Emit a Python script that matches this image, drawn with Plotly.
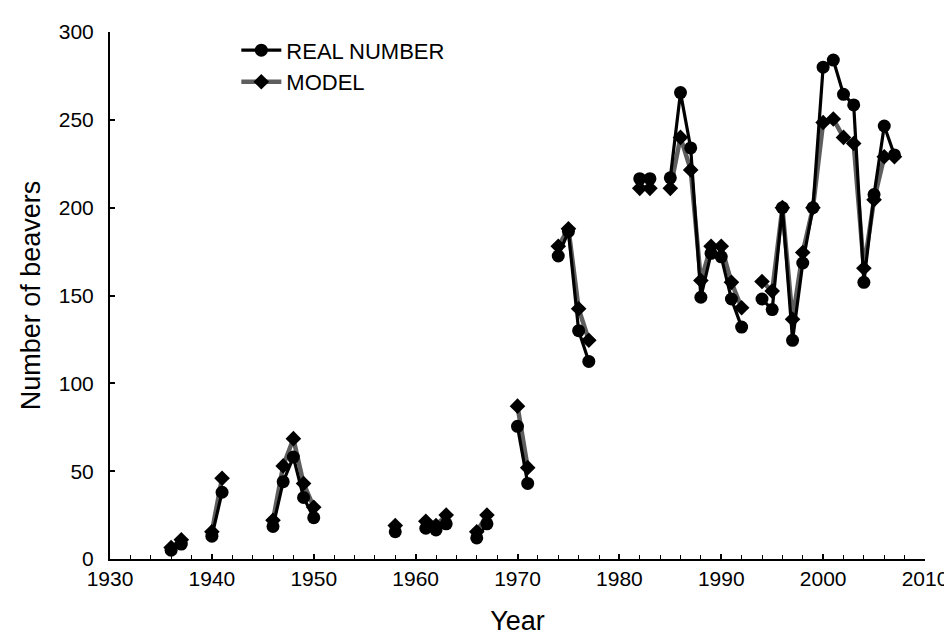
import plotly.graph_objects as go

years = [1936, 1937, 1940, 1941, 1946, 1947, 1948, 1949, 1950, 1958,
         1961, 1962, 1963, 1966, 1967, 1970, 1971, 1974, 1975, 1976, 1977,
         1982, 1983, 1985, 1986, 1987, 1988, 1989, 1990, 1991, 1992,
         1994, 1995, 1996, 1997, 1998, 1999, 2000, 2001, 2002, 2003, 2004,
         2005, 2006, 2007]
real_number = [5, 8.5, 13, 38, 18.5, 44, 58, 35, 23.5, 15.5,
               17.5, 16.5, 20, 12, 20, 75.5, 43, 172.5, 186.5, 130, 112.5,
               216.5, 216.5, 217, 265.5, 234, 149, 174, 172, 148, 132,
               148, 142, 200, 124.5, 168.5, 200, 280, 284, 264.5, 258.5, 157.5,
               207.5, 246.5, 230]
model = [6.5, 11, 15.5, 46, 22, 53, 68.5, 43, 29.5, 19,
         21.5, 19, 25, 15.5, 25, 87, 52, 178, 188, 142.5, 124.5,
         211, 211, 211, 240, 221.5, 158.5, 178, 178, 157.5, 143,
         158, 152.5, 200, 136.5, 174.5, 200, 248.5, 250.5, 240, 236.5, 165.5,
         204.5, 229, 229]

x_ticks = [1930, 1940, 1950, 1960, 1970, 1980, 1990, 2000, 2010]
y_ticks = [0, 50, 100, 150, 200, 250, 300]

# full year range with gaps (None) where no observation exists
full_years = list(range(min(years), max(years) + 1))
real_map = dict(zip(years, real_number))
model_map = dict(zip(years, model))
real_full = [real_map.get(y) for y in full_years]
model_full = [model_map.get(y) for y in full_years]

FONT = "Liberation Sans, Arial, sans-serif"

fig = go.Figure()
fig.add_trace(go.Scatter(
    x=full_years, y=model_full, name="MODEL", mode="lines+markers",
    connectgaps=False,
    line=dict(color="#5e5e5e", width=4.5),
    marker=dict(symbol="diamond", size=12, color="black"),
))
fig.add_trace(go.Scatter(
    x=full_years, y=real_full, name="REAL NUMBER", mode="lines+markers",
    connectgaps=False,
    line=dict(color="black", width=3.2),
    marker=dict(symbol="circle", size=13, color="black"),
))

fig.update_layout(
    width=952, height=635,
    margin=dict(l=102, r=31, t=19, b=84),
    paper_bgcolor="white", plot_bgcolor="white",
    font=dict(family=FONT, color="black", size=21),
    showlegend=True,
    legend=dict(x=0.155, y=1.005, xanchor="left", yanchor="top",
                traceorder="reversed",
                bgcolor="rgba(0,0,0,0)", font=dict(size=22, family=FONT),
                itemwidth=40),
)
fig.update_xaxes(
    range=[1930, 2010], tickvals=x_ticks, ticktext=[str(t) for t in x_ticks],
    showgrid=False, zeroline=False,
    showline=True, linecolor="black", linewidth=2,
    ticks="inside", ticklen=5, tickwidth=1.5, tickcolor="black",
    minor=dict(dtick=2, tick0=1930, ticks="inside", ticklen=4, tickwidth=1, tickcolor="black"),
    tickfont=dict(size=21, family=FONT),
    title=dict(text="Year", font=dict(size=27, family=FONT), standoff=22),
)
fig.update_yaxes(
    range=[0, 300], tickvals=y_ticks,
    showgrid=False, zeroline=False,
    showline=True, linecolor="black", linewidth=2,
    ticks="inside", ticklen=5, tickwidth=1.5, tickcolor="black",
    ticklabelstandoff=10,
    tickfont=dict(size=21, family=FONT),
    title=dict(text="Number of beavers", font=dict(size=27, family=FONT), standoff=10),
)

fig.write_html("out.html")
